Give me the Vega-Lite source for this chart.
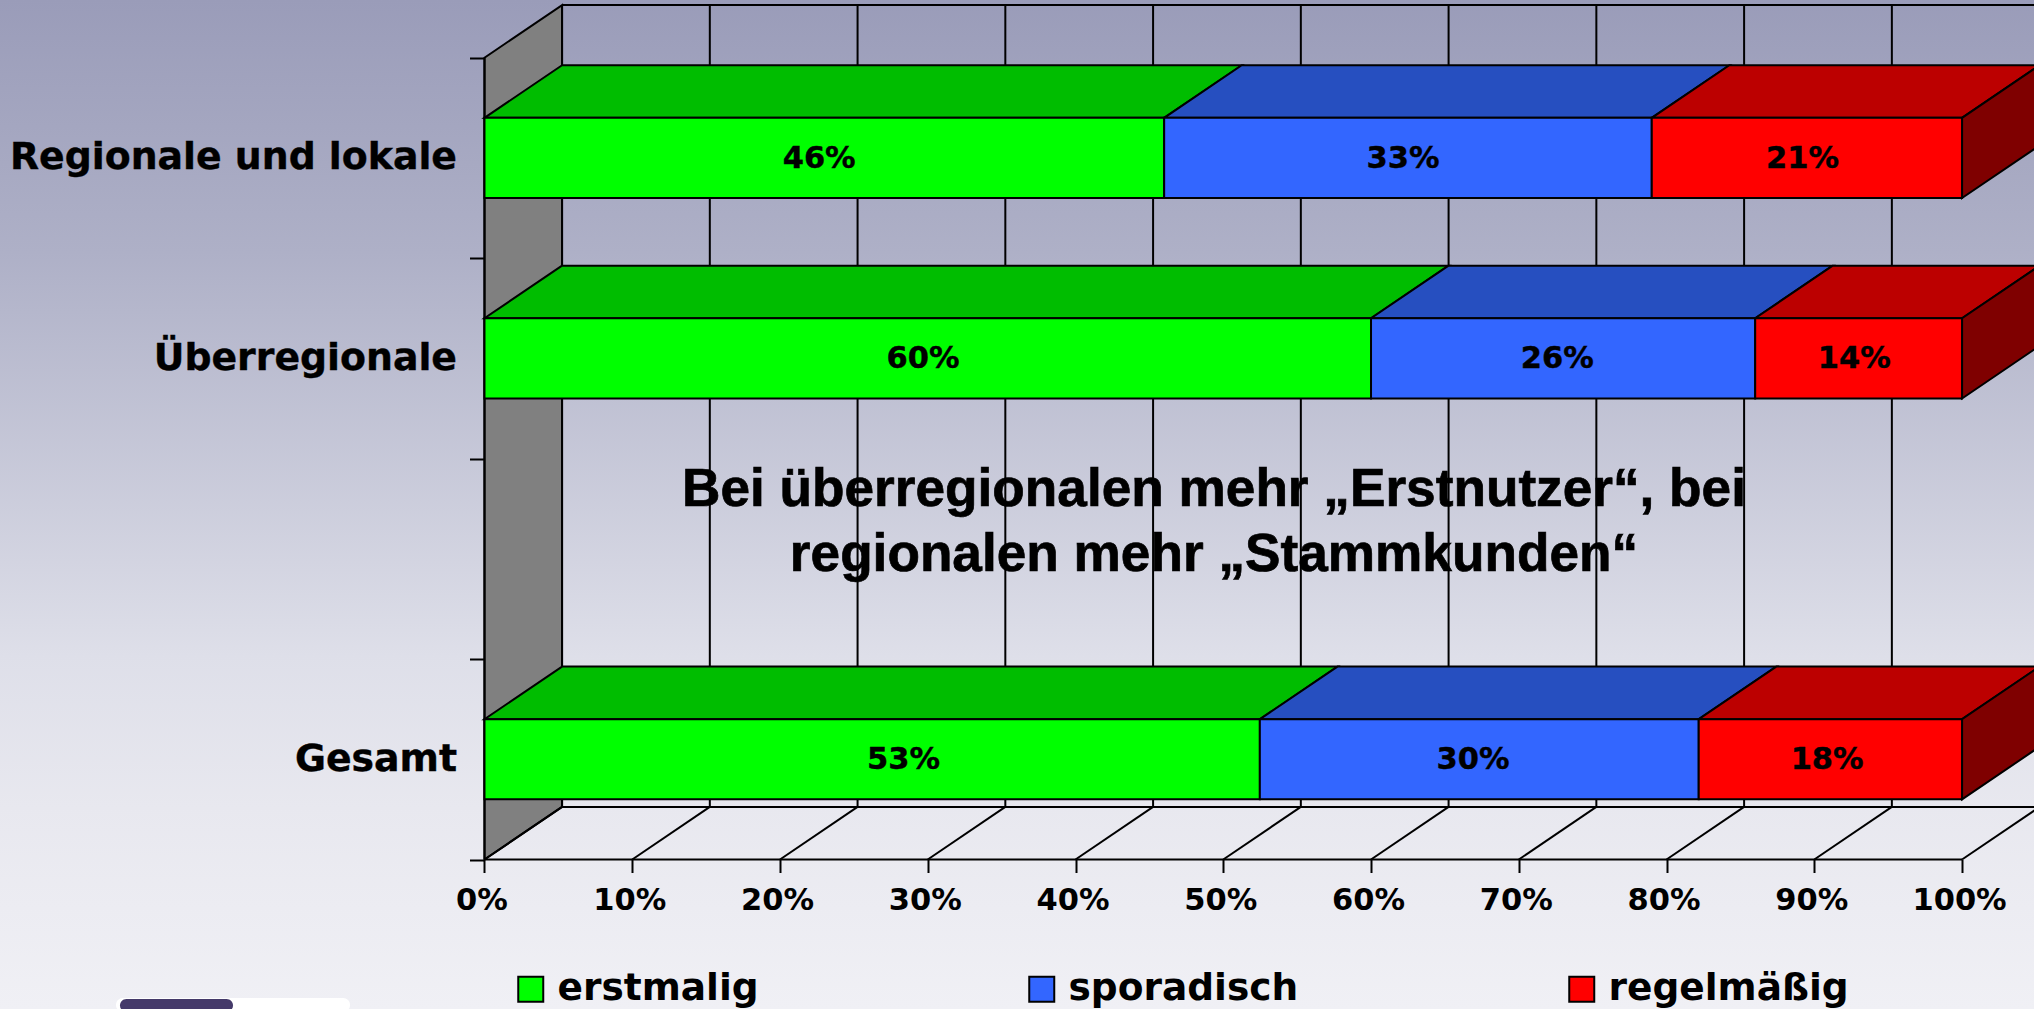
{
"$schema":"https://vega.github.io/schema/vega-lite/v6.json",
"width":2034,"height":1009,"padding":0,"autosize":{"type":"none"},
"view":{"stroke":null,"fill":{"gradient":"linear","x1":0,"y1":0,"x2":0,"y2":1,"stops":[{"offset":0,"color":"#9a9cb9"},{"offset":0.25,"color":"#aeb0c7"},{"offset":0.65,"color":"#dedfe9"},{"offset":0.8,"color":"#e8e8ef"},{"offset":1,"color":"#f0f0f5"}]}},
"datasets":{
"shares":[
{"category":"Regionale und lokale","series":"erstmalig","share":46,"label":"46%","labelAt":0.2265,"order":1,"low":3.3,"high":3.7,"mid":3.5},
{"category":"Regionale und lokale","series":"sporadisch","share":33,"label":"33%","labelAt":0.6216,"order":2,"low":3.3,"high":3.7,"mid":3.5},
{"category":"Regionale und lokale","series":"regelmäßig","share":21,"label":"21%","labelAt":0.892,"order":3,"low":3.3,"high":3.7,"mid":3.5},
{"category":"Überregionale","series":"erstmalig","share":60,"label":"60%","labelAt":0.2968,"order":1,"low":2.3,"high":2.7,"mid":2.5},
{"category":"Überregionale","series":"sporadisch","share":26,"label":"26%","labelAt":0.726,"order":2,"low":2.3,"high":2.7,"mid":2.5},
{"category":"Überregionale","series":"regelmäßig","share":14,"label":"14%","labelAt":0.927,"order":3,"low":2.3,"high":2.7,"mid":2.5},
{"category":"Gesamt","series":"erstmalig","share":53,"label":"53%","labelAt":0.2836,"order":1,"low":0.3,"high":0.7,"mid":0.5},
{"category":"Gesamt","series":"sporadisch","share":30,"label":"30%","labelAt":0.669,"order":2,"low":0.3,"high":0.7,"mid":0.5},
{"category":"Gesamt","series":"regelmäßig","share":18,"label":"18%","labelAt":0.9087,"order":3,"low":0.3,"high":0.7,"mid":0.5}
],
"tops":[
{"id":"r1","key":"erstmalig oben","y":3.7,"a":0,"b":0.46},{"id":"r1","key":"erstmalig oben","y":3.9625,"a":0.0525,"b":0.5125},
{"id":"r2","key":"sporadisch oben","y":3.7,"a":0.46,"b":0.79},{"id":"r2","key":"sporadisch oben","y":3.9625,"a":0.5125,"b":0.8425},
{"id":"r3","key":"regelmäßig oben","y":3.7,"a":0.79,"b":1},{"id":"r3","key":"regelmäßig oben","y":3.9625,"a":0.8425,"b":1.0525},
{"id":"u1","key":"erstmalig oben","y":2.7,"a":0,"b":0.6},{"id":"u1","key":"erstmalig oben","y":2.9625,"a":0.0525,"b":0.6525},
{"id":"u2","key":"sporadisch oben","y":2.7,"a":0.6,"b":0.86},{"id":"u2","key":"sporadisch oben","y":2.9625,"a":0.6525,"b":0.9125},
{"id":"u3","key":"regelmäßig oben","y":2.7,"a":0.86,"b":1},{"id":"u3","key":"regelmäßig oben","y":2.9625,"a":0.9125,"b":1.0525},
{"id":"g1","key":"erstmalig oben","y":0.7,"a":0,"b":0.5248},{"id":"g1","key":"erstmalig oben","y":0.9625,"a":0.0525,"b":0.5773},
{"id":"g2","key":"sporadisch oben","y":0.7,"a":0.5248,"b":0.8218},{"id":"g2","key":"sporadisch oben","y":0.9625,"a":0.5773,"b":0.8743},
{"id":"g3","key":"regelmäßig oben","y":0.7,"a":0.8218,"b":1},{"id":"g3","key":"regelmäßig oben","y":0.9625,"a":0.8743,"b":1.0525}
],
"sides":[
{"id":"r","key":"regelmäßig Seite","x":1,"lo":3.3,"hi":3.7},{"id":"r","key":"regelmäßig Seite","x":1.0525,"lo":3.5625,"hi":3.9625},
{"id":"u","key":"regelmäßig Seite","x":1,"lo":2.3,"hi":2.7},{"id":"u","key":"regelmäßig Seite","x":1.0525,"lo":2.5625,"hi":2.9625},
{"id":"g","key":"regelmäßig Seite","x":1,"lo":0.3,"hi":0.7},{"id":"g","key":"regelmäßig Seite","x":1.0525,"lo":0.5625,"hi":0.9625}
],
"wall":[{"x":0,"lo":0,"hi":4},{"x":0.0525,"lo":0.2625,"hi":4.2625}],
"lines":[
{"x":0.0525,"x2":0.0525,"y":0.2625,"y2":4.2625},{"x":0.1525,"x2":0.1525,"y":0.2625,"y2":4.2625},{"x":0.2525,"x2":0.2525,"y":0.2625,"y2":4.2625},{"x":0.3525,"x2":0.3525,"y":0.2625,"y2":4.2625},{"x":0.4525,"x2":0.4525,"y":0.2625,"y2":4.2625},{"x":0.5525,"x2":0.5525,"y":0.2625,"y2":4.2625},{"x":0.6525,"x2":0.6525,"y":0.2625,"y2":4.2625},{"x":0.7525,"x2":0.7525,"y":0.2625,"y2":4.2625},{"x":0.8525,"x2":0.8525,"y":0.2625,"y2":4.2625},{"x":0.9525,"x2":0.9525,"y":0.2625,"y2":4.2625},
{"x":0,"x2":0.0525,"y":0,"y2":0.2625},{"x":0.1,"x2":0.1525,"y":0,"y2":0.2625},{"x":0.2,"x2":0.2525,"y":0,"y2":0.2625},{"x":0.3,"x2":0.3525,"y":0,"y2":0.2625},{"x":0.4,"x2":0.4525,"y":0,"y2":0.2625},{"x":0.5,"x2":0.5525,"y":0,"y2":0.2625},{"x":0.6,"x2":0.6525,"y":0,"y2":0.2625},{"x":0.7,"x2":0.7525,"y":0,"y2":0.2625},{"x":0.8,"x2":0.8525,"y":0,"y2":0.2625},{"x":0.9,"x2":0.9525,"y":0,"y2":0.2625},{"x":1,"x2":1.0525,"y":0,"y2":0.2625},
{"x":0,"x2":1,"y":0,"y2":0},{"x":0.0525,"x2":1.0525,"y":0.2625,"y2":0.2625},{"x":0.0525,"x2":1.0525,"y":4.2625,"y2":4.2625},{"x":0,"x2":0,"y":0,"y2":4}
],
"logo":[{"part":"logo weiss","x":-0.2494,"x2":-0.091,"y":-0.691,"y2":-0.76},{"part":"logo lila","x":-0.2467,"x2":-0.1702,"y":-0.696,"y2":-0.76}],
"categories":[{"category":"Regionale und lokale","pos":3.5},{"category":"Überregionale","pos":2.495},{"category":"Gesamt","pos":0.495}],
"headline":[{"line":"Bei überregionalen mehr „Erstnutzer“, bei","pos":1.843},{"line":"regionalen mehr „Stammkunden“","pos":1.519}]
},
"layer":[
{"data":{"name":"logo"},"mark":{"type":"rect","cornerRadius":8},"encoding":{
"x":{"field":"x","type":"quantitative","scale":{"domain":[-0.3279,1.0487],"nice":false,"zero":false},"axis":{"values":[0,0.1,0.2,0.3,0.4,0.5,0.6,0.7,0.8,0.9,1],"format":".0%","title":null,"domain":false,"grid":false,"offset":-149.5,"tickSize":13,"tickWidth":2,"tickColor":"#000000","labelFont":"DejaVu Sans","labelFontWeight":"bold","labelFontSize":30.5,"labelColor":"#000000","labelPadding":13,"labelOffset":-3,"labelOverlap":false,"labelBound":false,"labelFlush":false}},"x2":{"field":"x2"},
"y":{"field":"y","type":"quantitative","scale":{"domain":[-0.7458,4.2878],"nice":false,"zero":false},"axis":{"values":[0,1,2,3,4],"labels":false,"title":null,"domain":false,"grid":false,"offset":-484.5,"tickSize":15,"tickWidth":2,"tickColor":"#000000"}},"y2":{"field":"y2"},
"fill":{"field":"part","type":"nominal","scale":{"domain":["erstmalig","sporadisch","regelmäßig","erstmalig oben","sporadisch oben","regelmäßig oben","regelmäßig Seite","logo weiss","logo lila"],"range":["#00ff00","#3366ff","#ff0000","#00bd00","#264fc0","#bc0000","#7f0000","#ffffff","#453a6a"]},
"legend":{"values":["erstmalig","sporadisch","regelmäßig"],"title":null,"orient":"none","legendX":512,"legendY":970,"direction":"horizontal","columns":3,"gridAlign":"each","columnPadding":264,"symbolType":"square","symbolSize":625,"symbolStrokeColor":"#000000","symbolStrokeWidth":2,"symbolOpacity":1,"labelFont":"DejaVu Sans","labelFontWeight":"bold","labelFontSize":37.5,"labelColor":"#000000","labelOffset":8,"labelLimit":400,"padding":0}}}},
{"data":{"name":"wall"},"mark":{"type":"area","orient":"vertical","color":"#808080","stroke":"#000000","strokeWidth":2},"encoding":{
"x":{"field":"x","type":"quantitative"},
"y":{"field":"lo","type":"quantitative"},
"y2":{"field":"hi"}}},
{"data":{"name":"lines"},"mark":{"type":"rule","color":"#000000","strokeWidth":2,"clip":true},"encoding":{
"x":{"field":"x","type":"quantitative"},"x2":{"field":"x2"},"y":{"field":"y","type":"quantitative"},"y2":{"field":"y2"}}},
{"data":{"name":"tops"},"mark":{"type":"area","orient":"horizontal","stroke":"#000000","strokeWidth":2,"clip":true},"encoding":{
"y":{"field":"y","type":"quantitative"},"x":{"field":"a","type":"quantitative"},"x2":{"field":"b"},
"fill":{"field":"key","type":"nominal"},"detail":{"field":"id"}}},
{"data":{"name":"sides"},"mark":{"type":"area","orient":"vertical","stroke":"#000000","strokeWidth":2,"clip":true},"encoding":{
"x":{"field":"x","type":"quantitative"},"y":{"field":"lo","type":"quantitative"},"y2":{"field":"hi"},
"fill":{"field":"key","type":"nominal"},"detail":{"field":"id"}}},
{"data":{"name":"shares"},"transform":[{"stack":"share","groupby":["category"],"sort":[{"field":"order"}],"offset":"normalize","as":["x0","x1"]}],"mark":{"type":"rect","stroke":"#000000","strokeWidth":2},"encoding":{
"x":{"field":"x0","type":"quantitative"},"x2":{"field":"x1"},"y":{"field":"low","type":"quantitative"},"y2":{"field":"high"},
"fill":{"field":"series","type":"nominal"}}},
{"data":{"name":"shares"},"mark":{"type":"text","font":"DejaVu Sans","fontWeight":"bold","fontSize":30.5,"color":"#000000","stroke":"#000000","strokeWidth":0.4,"baseline":"middle","dy":1},"encoding":{
"x":{"field":"labelAt","type":"quantitative"},
"y":{"field":"mid","type":"quantitative"},
"text":{"field":"label"}}},
{"data":{"name":"categories"},"mark":{"type":"text","font":"DejaVu Sans","fontWeight":"bold","fontSize":37.8,"color":"#000000","stroke":"#000000","strokeWidth":0.4,"align":"right","baseline":"middle"},"encoding":{
"x":{"datum":-0.0186,"type":"quantitative"},"y":{"field":"pos","type":"quantitative"},"text":{"field":"category"}}},
{"data":{"name":"headline"},"mark":{"type":"text","font":"Liberation Sans","fontWeight":"bold","fontSize":53.2,"color":"#000000","stroke":"#000000","strokeWidth":0.7,"align":"center","baseline":"middle"},"encoding":{
"x":{"datum":0.4937,"type":"quantitative"},"y":{"field":"pos","type":"quantitative"},"text":{"field":"line"}}}
]
}
